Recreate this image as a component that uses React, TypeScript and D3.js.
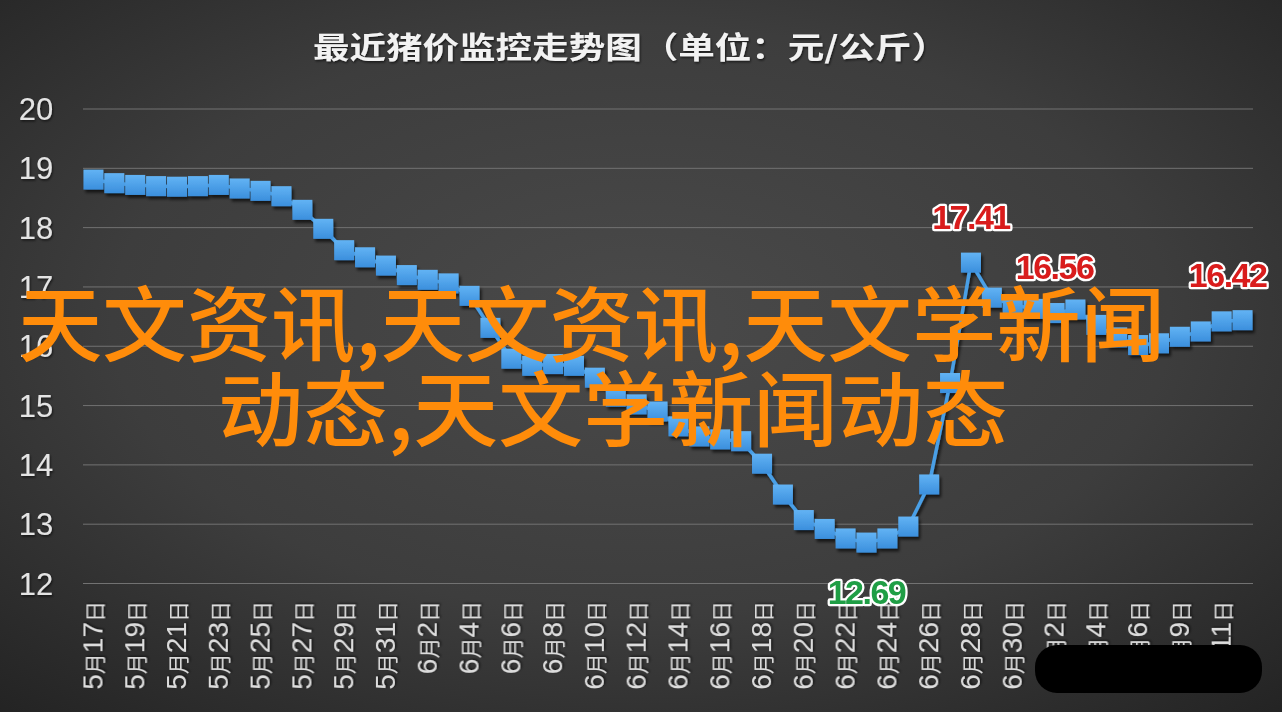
import React from "react";
import * as d3 from "d3";

const categories: string[] = [
  "5月17日","5月18日","5月19日","5月20日","5月21日","5月22日","5月23日","5月24日","5月25日","5月26日",
  "5月27日","5月28日","5月29日","5月30日","5月31日","6月1日","6月2日","6月3日","6月4日","6月5日",
  "6月6日","6月7日","6月8日","6月9日","6月10日","6月11日","6月12日","6月13日","6月14日","6月15日",
  "6月16日","6月17日","6月18日","6月19日","6月20日","6月21日","6月22日","6月23日","6月24日","6月25日",
  "6月26日","6月27日","6月28日","6月29日","6月30日","7月1日","7月2日","7月3日","7月4日","7月5日",
  "7月6日","7月8日","7月9日","7月10日","7月11日","7月12日"
];

const prices: number[] = [
  18.81, 18.75, 18.72, 18.70, 18.69, 18.70, 18.72, 18.66, 18.62, 18.53,
  18.30, 17.98, 17.62, 17.50, 17.36, 17.20, 17.12, 17.06, 16.85, 16.31,
  15.79, 15.67, 15.70, 15.67, 15.47, 15.15, 15.02, 14.90, 14.65, 14.48,
  14.43, 14.40, 14.02, 13.50, 13.07, 12.92, 12.76, 12.69, 12.76, 12.96,
  13.67, 15.38, 17.41, 16.82, 16.70, 16.63, 16.56, 16.62, 16.36, 16.15,
  16.02, 16.05, 16.16, 16.25, 16.42, 16.44
];

const yTicks: number[] = [12, 13, 14, 15, 16, 17, 18, 19, 20];

const highLabels: number[] = [42, 46, 54];
const lowLabels: number[] = [37];

const title = "最近猪价监控走势图（单位：元/公斤）";
const watermark1 = "天文资讯,天文资讯,天文学新闻";
const watermark2 = "动态,天文学新闻动态";

const W = 1282;
const H = 712;
const plotLeft = 83;
const plotRight = 1253;
const plotTop = 109;
const plotBottom = 583.5;

function splitLabel(s: string): { t: string; digit: boolean }[] {
  const parts: { t: string; digit: boolean }[] = [];
  for (const ch of s) {
    const d = /[0-9]/.test(ch);
    const last = parts[parts.length - 1];
    if (last && last.digit === d) last.t += ch;
    else parts.push({ t: ch, digit: d });
  }
  return parts;
}

export default function App() {
  const x = d3.scalePoint<string>().domain(categories).range([plotLeft, plotRight]).padding(0.5);
  const y = d3.scaleLinear().domain([12, 20]).range([plotBottom, plotTop]);
  const line = d3
    .line<number>()
    .x((_, i) => x(categories[i]) as number)
    .y((d) => y(d));

  const ms = 20;

  const annStyle = {
    textAnchor: "middle" as const,
    fontFamily: "'Liberation Sans', Arial, sans-serif",
    fontSize: 34,
    fontWeight: 700,
    letterSpacing: -1.5,
    stroke: "#ffffff",
    strokeWidth: 4.5,
    strokeLinejoin: "round" as const,
    paintOrder: "stroke",
  };

  return (
    <div style={{ position: "fixed", left: 0, top: 0, width: W, height: H }}>
      <svg width={W} height={H} style={{ display: "block" }}>
        <defs>
          <radialGradient id="bg" cx="50%" cy="45%" r="75%">
            <stop offset="0%" stopColor="#4a4a4a" />
            <stop offset="55%" stopColor="#3d3d3d" />
            <stop offset="100%" stopColor="#232323" />
          </radialGradient>
          <linearGradient id="mk" x1="0" y1="0" x2="0" y2="1">
            <stop offset="0%" stopColor="#62b3f4" />
            <stop offset="100%" stopColor="#3b8fdd" />
          </linearGradient>
          <filter id="sh" x="-30%" y="-30%" width="160%" height="160%">
            <feDropShadow dx="2" dy="3" stdDeviation="1.6" floodColor="#000" floodOpacity="0.65" />
          </filter>
          <filter id="tsh" x="-10%" y="-30%" width="120%" height="160%">
            <feDropShadow dx="1" dy="1.5" stdDeviation="1" floodColor="#000" floodOpacity="0.6" />
          </filter>
        </defs>
        <rect x={0} y={0} width={W} height={H} fill="url(#bg)" />

        <text
          x={313}
          y={58}
          textLength={635}
          lengthAdjust="spacingAndGlyphs"
          fontFamily="'Noto Sans CJK SC', sans-serif"
          fontSize={30}
          fontWeight={700}
          fill="#f2f2f2"
          filter="url(#tsh)"
        >
          {title}
        </text>

        {yTicks.map((t) => (
          <line key={"g" + t} x1={plotLeft} x2={plotRight} y1={y(t)} y2={y(t)} stroke="#727272" strokeWidth={1} />
        ))}
        {yTicks.map((t) => (
          <text
            key={"yl" + t}
            x={36}
            y={y(t)}
            dy="0.36em"
            textAnchor="middle"
            fontFamily="'Liberation Sans', Arial, sans-serif"
            fontSize={31}
            fill="#e4e4e4"
            filter="url(#tsh)"
          >
            {t}
          </text>
        ))}

        {categories.map((c, i) =>
          i % 2 === 0 ? (
            <text
              key={"xl" + i}
              transform={`translate(${(x(c) as number) + 9},601) rotate(-90)`}
              textAnchor="end"
              fill="#dcdcdc"
              filter="url(#tsh)"
            >
              {splitLabel(c).map((p, k) => (
                <tspan
                  key={k}
                  fontFamily={p.digit ? "'Liberation Sans', Arial, sans-serif" : "'Noto Sans CJK SC', sans-serif"}
                  fontSize={p.digit ? 28 : 21}
                >
                  {p.t}
                </tspan>
              ))}
            </text>
          ) : null
        )}

        <g filter="url(#sh)">
          <path d={line(prices) || ""} fill="none" stroke="#4a9fe6" strokeWidth={3.5} />
          {prices.map((v, i) => (
            <rect
              key={"m" + i}
              x={(x(categories[i]) as number) - ms / 2}
              y={y(v) - ms / 2}
              width={ms}
              height={ms}
              fill="url(#mk)"
            />
          ))}
        </g>

        {highLabels.map((i) => (
          <text key={"h" + i} x={(x(categories[i]) as number) + (i === 54 ? 6 : 0)} y={y(prices[i]) - 34} fill="#d91c1c" {...annStyle}>
            {prices[i].toFixed(2)}
          </text>
        ))}
        {lowLabels.map((i) => (
          <text key={"l" + i} x={x(categories[i]) as number} y={y(prices[i]) + 61} fill="#1f9e45" {...annStyle}>
            {prices[i].toFixed(2)}
          </text>
        ))}

        <text
          x={18}
          y={355}
          textLength={1147}
          lengthAdjust="spacingAndGlyphs"
          fontFamily="'Noto Sans CJK SC', sans-serif"
          fontSize={82}
          fontWeight={500}
          fill="#ff8c0a"
        >
          {watermark1}
        </text>
        <text
          x={218}
          y={440}
          textLength={790}
          lengthAdjust="spacingAndGlyphs"
          fontFamily="'Noto Sans CJK SC', sans-serif"
          fontSize={82}
          fontWeight={500}
          fill="#ff8c0a"
        >
          {watermark2}
        </text>

        <rect x={1035} y={645} width={227} height={48} rx={22} fill="#000" />
      </svg>
    </div>
  );
}
